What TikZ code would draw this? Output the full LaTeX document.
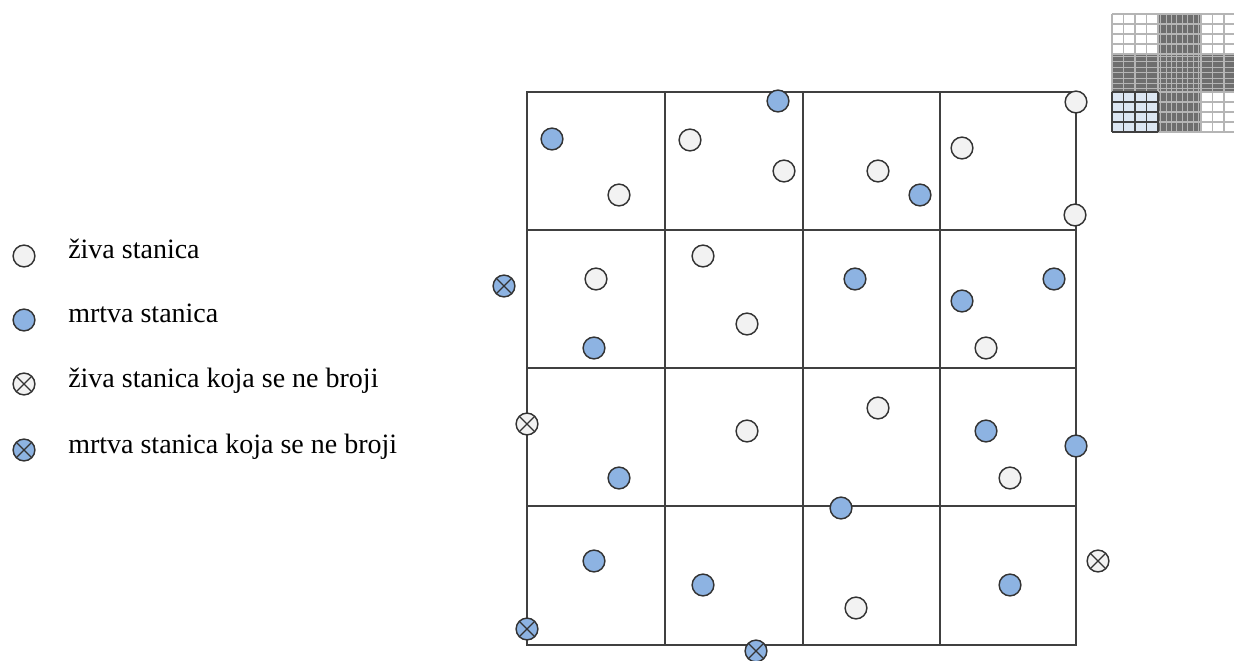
\documentclass[tikz,border=0pt]{standalone}
\usepackage{fontspec}
\setmainfont{Liberation Serif}
\definecolor{livec}{HTML}{F2F2F2}
\definecolor{deadc}{HTML}{8DB3E2}
\definecolor{edgec}{HTML}{333333}
\definecolor{gridc}{HTML}{404040}
\definecolor{icongray}{HTML}{6E6E6E}
\definecolor{iconlight}{HTML}{B5B5B5}
\definecolor{iconblue}{HTML}{DCE6F2}
\begin{document}
\begin{tikzpicture}[x=0.75pt,y=-0.75pt,
  gridline/.style={draw=gridc, line width=1.1pt},
  cell/.style={circle, draw=edgec, line width=1.1pt, minimum size=16.3pt, inner sep=0pt},
  live/.style={cell, fill=livec},
  dead/.style={cell, fill=deadc},
  nocount/.style={path picture={\draw[edgec, line width=0.9pt]
      (path picture bounding box.north west) -- (path picture bounding box.south east)
      (path picture bounding box.north east) -- (path picture bounding box.south west);}},
  legtext/.style={anchor=base west, inner sep=0pt, font=\fontsize{21pt}{25pt}\selectfont}
]
\useasboundingbox (0,0) rectangle (1234,660);

% ---------- counting grid ----------
\draw[gridline] (527,92) rectangle (1076,645);
\foreach \x in {665,803,940} \draw[gridline] (\x,92) -- (\x,645);
\foreach \y in {230,368,506} \draw[gridline] (527,\y) -- (1076,\y);

% ---------- hemocytometer icon ----------
\begin{scope}
\clip (1100,0) rectangle (1234,660);
\fill[white] (1112,14) rectangle (1158,54);
\fill[white] (1201,14) rectangle (1247,54);
\fill[white] (1201,92) rectangle (1247,132);
\fill[iconblue] (1112,92) rectangle (1158,132);
\fill[icongray] (1158,14) rectangle (1201,132);
\fill[icongray] (1112,54) rectangle (1247,92);
\foreach \i in {0,...,7} {
  \draw[iconlight, line width=0.6pt] ({1160.5+\i*5.4},14) -- ({1160.5+\i*5.4},132);
}
\foreach \i in {0,...,6} {
  \draw[iconlight, line width=0.6pt] (1112,{56.5+\i*5.4}) -- (1247,{56.5+\i*5.4});
}
\foreach \i in {0,...,4} {
  \draw[iconlight, line width=0.8pt] ({1112+\i*11.5},14) -- ({1112+\i*11.5},54);
  \draw[iconlight, line width=0.8pt] ({1201+\i*11.5},14) -- ({1201+\i*11.5},54);
  \draw[iconlight, line width=0.8pt] ({1201+\i*11.5},92) -- ({1201+\i*11.5},132);
  \draw[iconlight, line width=0.8pt] (1112,{14+\i*10}) -- (1158,{14+\i*10});
  \draw[iconlight, line width=0.8pt] (1201,{14+\i*10}) -- (1247,{14+\i*10});
  \draw[iconlight, line width=0.8pt] (1201,{92+\i*10}) -- (1247,{92+\i*10});
  \draw[iconlight, line width=0.8pt] (1158,{14+\i*10}) -- (1201,{14+\i*10});
  \draw[iconlight, line width=0.8pt] (1158,{92+\i*10}) -- (1201,{92+\i*10});
  \draw[iconlight, line width=0.8pt] ({1112+\i*11.5},54) -- ({1112+\i*11.5},92);
  \draw[iconlight, line width=0.8pt] ({1201+\i*11.5},54) -- ({1201+\i*11.5},92);
}
\foreach \i in {0,...,4} {
  \draw[gridc, line width=0.8pt] ({1112+\i*11.5},92) -- ({1112+\i*11.5},132);
  \draw[gridc, line width=0.8pt] (1112,{92+\i*10}) -- (1158,{92+\i*10});
}
\end{scope}

% ---------- cells: row 1 ----------
\node[dead] (r1a) at (552,139) {};
\node[live] (r1b) at (619,195) {};
\node[dead] (r1c) at (778,101) {};
\node[live] (r1d) at (690,140) {};
\node[live] (r1e) at (784,171) {};
\node[live] (r1f) at (878,171) {};
\node[dead] (r1g) at (920,195) {};
\node[live] (r1h) at (962,148) {};
\node[live] (r1i) at (1076,102) {};
\node[live] (r1j) at (1075,215) {};
% row 2
\node[dead,nocount] (r2a) at (504,286) {};
\node[live] (r2b) at (596,279) {};
\node[dead] (r2c) at (594,348) {};
\node[live] (r2d) at (703,256) {};
\node[live] (r2e) at (747,324) {};
\node[dead] (r2f) at (855,279) {};
\node[dead] (r2g) at (962,301) {};
\node[dead] (r2h) at (1054,279) {};
\node[live] (r2i) at (986,348) {};
% row 3
\node[live,nocount] (r3a) at (527,424) {};
\node[dead] (r3b) at (619,478) {};
\node[live] (r3c) at (747,431) {};
\node[live] (r3d) at (878,408) {};
\node[dead] (r3e) at (986,431) {};
\node[live] (r3f) at (1010,478) {};
\node[dead] (r3g) at (1076,446) {};
% row 4
\node[dead] (r4a) at (841,508) {};
\node[dead] (r4b) at (594,561) {};
\node[dead] (r4c) at (703,585) {};
\node[live] (r4d) at (856,608) {};
\node[dead] (r4e) at (1010,585) {};
\node[live,nocount] (r4f) at (1098,561) {};
\node[dead,nocount] (r4g) at (527,629) {};
\node[dead,nocount] (r4h) at (756,651) {};

% ---------- legend ----------
\node[live] (l1) at (24,256) {};
\node[dead] (l2) at (24,320) {};
\node[live,nocount] (l3) at (24,384) {};
\node[dead,nocount] (l4) at (24,450) {};
\node[legtext] (t1) at (68,258) {živa stanica};
\node[legtext] (t2) at (68,322) {mrtva stanica};
\node[legtext] (t3) at (68,387) {živa stanica koja se ne broji};
\node[legtext] (t4) at (68,453) {mrtva stanica koja se ne broji};
\end{tikzpicture}
\end{document}
